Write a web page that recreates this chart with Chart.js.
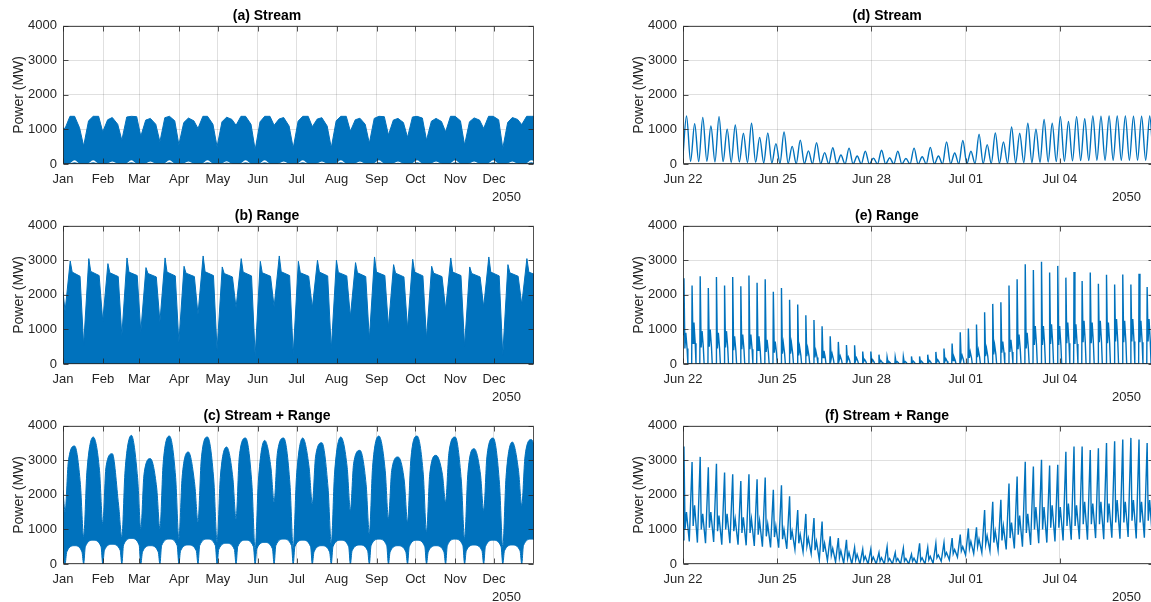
<!DOCTYPE html>
<html>
<head>
<meta charset="utf-8">
<title>Tidal power 2050</title>
<script src="https://cdn.jsdelivr.net/npm/chart.js@4.4.1/dist/chart.umd.min.js"></script>
<style>
  html, body { margin:0; padding:0; background:#ffffff; width:1151px; height:602px; overflow:hidden; position:relative; }
  canvas { position:absolute; }
</style>
</head>
<body>
<canvas id="pa" width="534" height="204" style="left:0px;top:0px"></canvas>
<canvas id="pb" width="534" height="204" style="left:0px;top:200px"></canvas>
<canvas id="pc" width="534" height="204" style="left:0px;top:400px"></canvas>
<canvas id="pd" width="534" height="204" style="left:620px;top:0px"></canvas>
<canvas id="pe" width="534" height="204" style="left:620px;top:200px"></canvas>
<canvas id="pf" width="534" height="204" style="left:620px;top:400px"></canvas>
<script>
// ---------------- DATA ----------------
const TITLES = ['(a) Stream', '(b) Range', '(c) Stream + Range', '(d) Stream', '(e) Range', '(f) Stream + Range'];
const Y_TITLE = 'Power (MW)';
const YEAR_LABEL = '2050';
const MONTH_LABELS = ['Jan','Feb','Mar','Apr','May','Jun','Jul','Aug','Sep','Oct','Nov','Dec'];
const MONTH_START_DAYS = [0,31,59,90,120,151,181,212,243,273,304,334];
const ZOOM_LABELS = ['Jun 22','Jun 25','Jun 28','Jul 01','Jul 04'];
const ZOOM_TICK_DAYS = [0,3,6,9,12];     // days after 22 Jun 00:00
const YEAR_DAYS = 365, ZOOM_DAYS = 15;

// Year panels: envelopes, one value per spring-neap cycle (days of year)
const NEAP_DAYS = [1.6,16.0,30.8,45.6,60.3,75.1,89.8,104.6,119.4,134.1,148.9,163.6,178.4,193.2,207.9,222.7,237.4,252.2,267.0,281.7,296.5,311.2,326.0,340.8,355.5,370.3];

// (a) Stream: upper envelope
const A_START = 1040;
const A_DIP = [1030,520,930,690,800,640,560,1030,500,1120,410,1120,460,1080,470,950,600,840,770,690,930,550,1030,450,1140,600];
const A_RISE = [1380,1250,1280,1360,1270,1340,1200,1380,1220,1380,1220,1300,1240,1300,1250,1280,1320,1270,1360,1240,1380,1220,1380,1200,1380];
const A_SPRING = [1380,1380,1345,1380,1320,1380,1330,1380,1355,1380,1380,1345,1380,1340,1380,1325,1380,1320,1380,1320,1380,1335,1380,1345,1380];
const A_FALL = [1050,1380,1150,1370,1150,1250,1250,1150,1290,1150,1380,1100,1380,1100,1380,1150,1370,1200,1330,1230,1250,1270,1280,1290,1380];
// (a) thin gaps near the bottom at spring tides
const A_GAP_TOP = [110,110,70,110,70,110,70,110,80,110,110,70,110,70,110,70,110,70,110,70,110,70,110,70,110];
const A_GAP_BOT = [50,50,35,50,35,50,35,50,40,50,50,35,50,35,50,35,50,35,50,35,50,35,50,35,50];

// (b) Range: upper envelope
const B_START = 2090;
const B_DIP = [1530,548,1241,817,932,1222,625,1433,404,1626,240,1655,280,1626,423,1366,721,1077,1029,740,1587,520,1655,260,1722,600];
const B_SPIKE = [2982,3050,2905,3069,2790,3070,2828,3127,2809,3050,2972,3127,2972,3001,3001,2934,3098,2876,3030,2828,3069,2809,3098,2876,3050];
const B_SHOULDER = [2660,2680,2640,2660,2620,2660,2630,2670,2620,2660,2640,2670,2640,2660,2650,2640,2660,2630,2660,2630,2660,2620,2660,2640,2660];
const B_PLATEAU = [2540,2560,2530,2560,2520,2550,2530,2560,2520,2550,2540,2560,2540,2550,2550,2530,2560,2520,2550,2530,2560,2520,2550,2540,2560];

// (c) Stream + Range: upper and lower envelopes
const C_START = 2140;
const C_DIP = [1510,790,1174,790,1030,1030,740,1222,645,1318,404,1800,452,1750,596,1558,885,1318,1222,933,1800,740,1558,500,1700,900];
const C_RISE = [2950,2660,2800,2700,2600,2900,2500,3000,2500,3100,2400,3200,2500,3100,2600,2900,2800,2700,3000,2600,3200,2600,3100,2500,3100];
const C_PEAK = [3415,3675,3194,3723,3050,3704,3242,3675,3386,3646,3578,3646,3646,3511,3675,3290,3704,3098,3704,3145,3675,3338,3646,3530,3600];
const C_FALL = [2300,2700,1700,2500,2200,2500,2300,2400,2500,2300,2800,2300,2800,2200,2800,2300,2700,2400,2600,2600,2400,2600,2300,2700,2600];
const C_LOW_START = 250;
const C_LOW_SIDE = [350,500,400,550,350,530,380,530,420,500,440,530,500,350,500,380,530,350,500,350,530,380,500,380,530];
const C_LOW_TOP = [530,690,570,740,530,720,550,720,600,690,625,720,690,530,690,550,720,530,690,530,720,550,690,550,720];

// (d) Stream, 22 Jun - 7 Jul: alternating slack / peak values
const D_T0 = -0.017, D_HALF = 0.1294;
const D_PEAKS = [1390,1170,1350,1100,1370,1010,1130,890,1180,770, 900,590,930,510,690,380,620,330,470,260,
                 460,230,370,170,400,180,370,160,460,210, 480,230,640,320,680,370,860,560,900,640,
                 1070,890,1180,1010,1290,1180,1370,1230,1370,1310, 1390,1380,1390,1390,1390,1380,1380,1390];
const D_SLACK = [20, 80,70,80,60,70,50,60,40,50,30, 30,20,20,10,10,5,5,0,0,0, 0,0,0,0,0,0,0,0,0,0,
                 0,0,5,5,10,10,15,15,20,25, 30,35,40,50,60,70,80,90,100,100, 110,110,110,110,110,110,110,110,110];

// (e) Range and (f) Stream + Range: one entry per generation event
const EV_T0 = 0.03, EV_STEP = 0.2588;
const E_START = 850;
const E_SPIKE = [2480,2270,2540,2200,2520,2270,2520,2250,2560,2350, 2450,2090,2200,1860,1720,1410,1270,1090,800,640,
                 550,540,360,360,270,200,200,210,220,220, 270,350,450,590,920,1030,1140,1500,1740,1790,
                 2270,2450,2890,2720,2960,2650,2840,2500,2660,2400, 2650,2320,2580,2300,2590,2300,2610,2230];
const E_DROP = [450,600,480,500,450,480,400,430,430,400, 350,330,300,300,250,230,190,190,150,120,
                100,90,70,60,50,40,40,40,40,40, 50,60,80,100,130,180,200,230,280,330,
                350,430,450,550,550,580,550,600,580,630, 600,630,600,650,630,650,630,650];
const E_BUMP = [900,1200,950,1000,900,950,800,850,850,800, 700,650,600,600,500,450,380,380,300,230,
                200,180,130,120,100,70,70,70,80,80, 100,120,150,200,250,350,400,450,550,650,
                700,850,900,1100,1100,1150,1100,1200,1150,1250, 1200,1250,1200,1300,1250,1300,1250,1300];
const F_START = 700;
const F_SPIKE = [3400,2950,3100,2800,2900,2650,2600,2400,2600,2450, 2500,2150,2280,1960,1560,1450,1330,1230,800,750,
                 700,480,430,430,330,500,330,460,280,600, 480,600,620,750,850,1030,1060,1560,1800,1860,
                 2330,2530,2960,2820,3020,2850,2870,3250,3400,3400, 3300,3350,3500,3550,3600,3650,3600,3500];
const F_DROP = [1000,1100,1000,1050,950,1000,950,900,900,850, 800,780,720,700,600,520,400,350,250,180,
                150,120,100,90,80,80,80,80,80,100, 120,180,230,300,380,450,500,580,620,680,
                750,850,900,1000,1000,1050,1050,1100,1100,1150, 1150,1150,1200,1200,1200,1250,1200,1250];
const F_MID = [1500,1700,1450,1500,1400,1450,1300,1350,1300,1250, 1150,1100,1000,950,850,750,650,600,450,380,
               330,280,220,200,180,160,160,160,170,180, 220,260,330,420,500,650,720,820,950,1100,
               1200,1400,1450,1650,1650,1700,1650,1750,1700,1800, 1750,1800,1750,1850,1800,1850,1800,1850];
const F_LOW = [650,620,600,640,560,600,560,540,520,500, 480,470,440,420,350,300,120,100,60,20,
               0,0,0,0,0,0,0,0,0,0, 20,80,120,200,260,300,330,380,400,420,
               450,500,550,600,620,650,680,700,720,700, 750,720,760,730,780,740,760,720];

// ---------------- STYLE ----------------
const BLUE = '#0072BD';
const AX = '#262626';
const GRID = 'rgba(38,38,38,0.14)';
const FONT = "'Liberation Sans', Arial, Helvetica, sans-serif";

// ---------------- BUILD POINT TABLES ----------------
const nCyc = NEAP_DAYS.length - 1;
function envelope(start, parts) {
  const pts = [{x: 0, y: start}];
  for (let k = 0; k <= nCyc; k++) {
    const n = NEAP_DAYS[k];
    for (const p of parts) {
      if (k === nCyc && p.from !== 'n0') continue;
      const base = p.from === 'n1' ? NEAP_DAYS[k + 1] : n;
      pts.push({x: base + p.dx, y: p.v[k]});
    }
  }
  return pts.sort((a, b) => a.x - b.x);
}
const zeros = NEAP_DAYS.map(() => 0);
const aUpper = envelope(A_START, [
  {from:'n0', dx:0, v:A_DIP}, {from:'n', dx:3.8, v:A_RISE}, {from:'n', dx:7.4, v:A_SPRING}, {from:'n1', dx:-3.2, v:A_FALL}]);
const aGapTop = envelope(0, [{from:'n', dx:2.5, v:zeros}, {from:'n', dx:7.4, v:A_GAP_TOP}, {from:'n1', dx:-2.5, v:zeros}]);
const aGapBot = envelope(0, [{from:'n', dx:2.5, v:zeros}, {from:'n', dx:7.4, v:A_GAP_BOT}, {from:'n1', dx:-2.5, v:zeros}]);
const bUpper = envelope(B_START, [
  {from:'n0', dx:0, v:B_DIP}, {from:'n', dx:4.0, v:B_SPIKE}, {from:'n', dx:5.5, v:B_SHOULDER}, {from:'n1', dx:-2.8, v:B_PLATEAU}]);
const cUpper = envelope(C_START, [
  {from:'n0', dx:0, v:C_DIP}, {from:'n', dx:2.5, v:C_RISE}, {from:'n', dx:7.4, v:C_PEAK}, {from:'n1', dx:-2.5, v:C_FALL}]);
const cLower = envelope(C_LOW_START, [
  {from:'n0', dx:0, v:zeros}, {from:'n', dx:1.3, v:C_LOW_SIDE}, {from:'n', dx:7.4, v:C_LOW_TOP}, {from:'n1', dx:-1.3, v:C_LOW_SIDE}]);

const dPts = [];
for (let j = 0; j < D_SLACK.length; j++) {
  dPts.push({x: D_T0 + 2 * j * D_HALF, y: D_SLACK[j]});
  if (j < D_PEAKS.length) dPts.push({x: D_T0 + (2 * j + 1) * D_HALF, y: D_PEAKS[j]});
}
const ePts = [{x: 0, y: E_START}];
E_SPIKE.forEach((s, i) => {
  const t = EV_T0 + i * EV_STEP;
  if (i > 0) ePts.push({x: t - 0.012, y: 0});
  ePts.push({x: t, y: s});
  ePts.push({x: t + 0.03, y: E_DROP[i]});
  ePts.push({x: t + 0.06, y: E_BUMP[i]});
  ePts.push({x: t + 0.1, y: E_DROP[i]});
  ePts.push({x: t + 0.125, y: 0});
});
const fPts = [{x: 0, y: F_START}];
F_SPIKE.forEach((s, i) => {
  const t = EV_T0 + i * EV_STEP;
  fPts.push({x: t, y: s});
  fPts.push({x: t + 0.035, y: F_DROP[i]});
  fPts.push({x: t + 0.08, y: F_MID[i]});
  fPts.push({x: t + 0.17, y: F_LOW[i]});
});

// ---------------- CHARTS ----------------
const frame = {
  id: 'frame',
  afterDraw(chart) {
    const {ctx, chartArea: a} = chart;
    const xs = chart.scales.x, ys = chart.scales.y;
    const L = Math.round(a.left) + 0.5, R = Math.round(a.right) - 0.5, T = Math.round(a.top) + 0.5, B = Math.round(a.bottom) - 0.5;
    ctx.save();
    ctx.strokeStyle = AX; ctx.lineWidth = 1; ctx.globalAlpha = 0.8;
    ctx.beginPath();
    ctx.rect(L, T, R - L, B - T);
    for (const t of xs.ticks) { const p = Math.round(xs.getPixelForValue(t.value)) + 0.5; ctx.moveTo(p, B); ctx.lineTo(p, B - 5); ctx.moveTo(p, T); ctx.lineTo(p, T + 5); }
    for (const t of ys.ticks) { const p = Math.round(ys.getPixelForValue(t.value)) + 0.5; ctx.moveTo(L, p); ctx.lineTo(L + 5, p); ctx.moveTo(R, p); ctx.lineTo(R - 5, p); }
    ctx.stroke();
    ctx.globalAlpha = 1;
    ctx.fillStyle = AX; ctx.font = '13px ' + FONT; ctx.textAlign = 'right'; ctx.textBaseline = 'middle';
    ctx.fillText(YEAR_LABEL, a.right - 13, a.bottom + 33);
    ctx.restore();
  }
};

function makeChart(id, title, maxX, tickVals, tickLabels, datasets) {
  return new Chart(document.getElementById(id), {
    type: 'line',
    data: { datasets },
    plugins: [frame],
    options: {
      responsive: false, animation: false, events: [],
      layout: { padding: 0 },
      elements: { point: { radius: 0 } },
      plugins: {
        legend: { display: false }, tooltip: { enabled: false },
        title: { display: true, text: title, color: '#000000', font: { size: 14, weight: 'bold', family: FONT }, padding: { top: 8, bottom: 1 } }
      },
      scales: {
        x: {
          type: 'linear', min: 0, max: maxX,
          afterFit(s) { s.height = 40; },
          afterBuildTicks(s) { s.ticks = tickVals.map(v => ({ value: v })); },
          ticks: { color: AX, font: { size: 13, family: FONT }, padding: 8, maxRotation: 0, autoSkip: false, callback: (v, i) => tickLabels[i] },
          grid: { color: GRID, drawTicks: false }, border: { display: false }
        },
        y: {
          min: 0, max: 4000,
          afterFit(s) { s.width = 63; },
          ticks: { stepSize: 1000, color: AX, font: { size: 13, family: FONT }, padding: 6, callback: v => String(v) },
          grid: { color: GRID, drawTicks: false }, border: { display: false },
          title: { display: true, text: Y_TITLE, color: AX, font: { size: 14, family: FONT }, padding: { top: 11, bottom: 0 } }
        }
      }
    }
  });
}

const areaDS = (data, fill, color, mode) => ({ data, fill, backgroundColor: color, borderColor: color, borderWidth: color === '#ffffff' ? 0 : 1, cubicInterpolationMode: mode || 'default', tension: 0 });
const lineDS = (data, mode) => ({ data, fill: false, borderColor: BLUE, borderWidth: 1.4, cubicInterpolationMode: mode || 'default', tension: 0 });

makeChart('pa', TITLES[0], YEAR_DAYS, MONTH_START_DAYS, MONTH_LABELS, [
  areaDS(aGapTop, '+1', '#ffffff', 'monotone'),
  { data: aGapBot, fill: false, borderWidth: 0, cubicInterpolationMode: 'monotone' },
  areaDS(aUpper, 'origin', BLUE)
]);
makeChart('pb', TITLES[1], YEAR_DAYS, MONTH_START_DAYS, MONTH_LABELS, [
  areaDS(bUpper, 'origin', BLUE)
]);
makeChart('pc', TITLES[2], YEAR_DAYS, MONTH_START_DAYS, MONTH_LABELS, [
  areaDS(cUpper, '+1', BLUE, 'monotone'),
  { data: cLower, fill: false, borderColor: BLUE, borderWidth: 1, cubicInterpolationMode: 'monotone' }
]);
makeChart('pd', TITLES[3], ZOOM_DAYS, ZOOM_TICK_DAYS, ZOOM_LABELS, [lineDS(dPts, 'monotone')]);
makeChart('pe', TITLES[4], ZOOM_DAYS, ZOOM_TICK_DAYS, ZOOM_LABELS, [lineDS(ePts)]);
makeChart('pf', TITLES[5], ZOOM_DAYS, ZOOM_TICK_DAYS, ZOOM_LABELS, [lineDS(fPts)]);
</script>
</body>
</html>
